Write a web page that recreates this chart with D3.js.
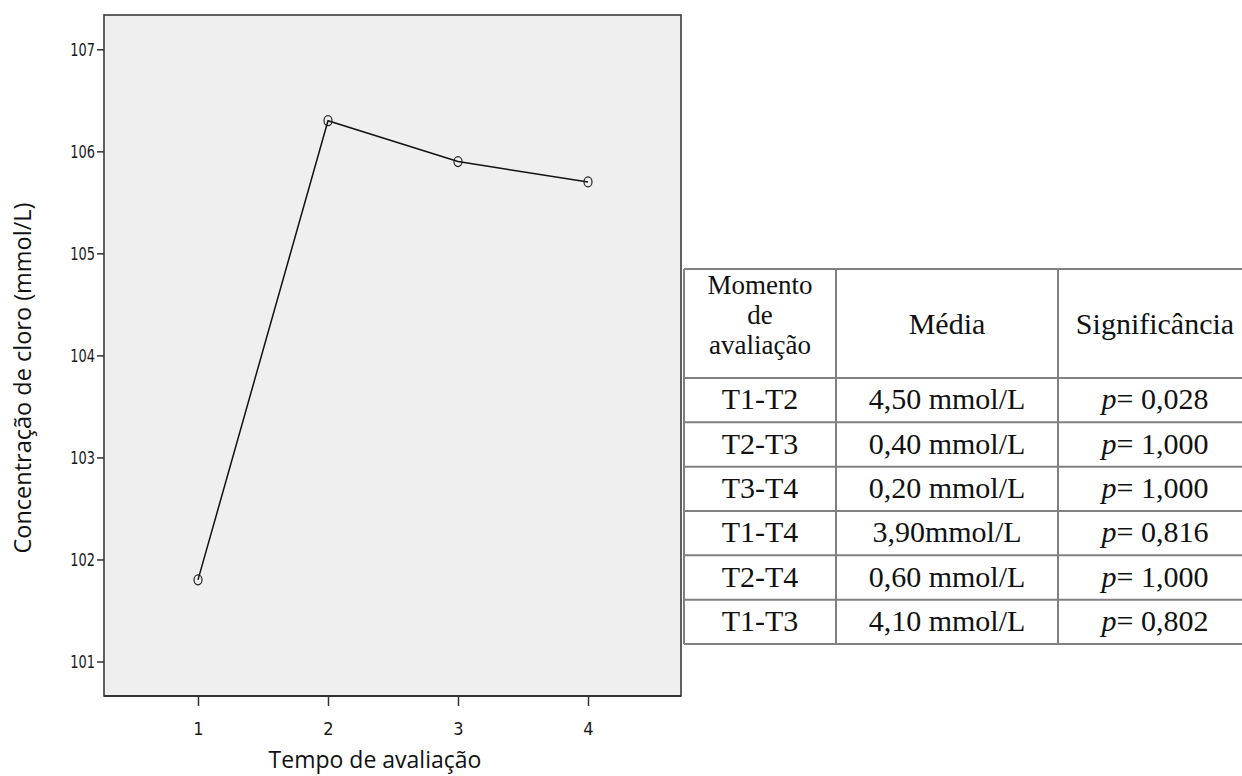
<!DOCTYPE html>
<html>
<head>
<meta charset="utf-8">
<script src="https://cdn.jsdelivr.net/npm/d3@7"></script>
<style>
  body { margin: 0; background: #fff; }
  svg { display: block; }
</style>
</head>
<body>
<svg id="chart" width="1242" height="776"></svg>
<script>
// --- data ---
const timePoints = [1, 2, 3, 4];
const chlorideMeans = [101.8, 106.3, 105.9, 105.7];
const yTicks = [101, 102, 103, 104, 105, 106, 107];

const headerLines = ["Momento", "de", "avaliação"];
const comparisons = ["T1-T2", "T2-T3", "T3-T4", "T1-T4", "T2-T4", "T1-T3"];
const meanDiffs = ["4,50 mmol/L", "0,40 mmol/L", "0,20 mmol/L", "3,90mmol/L", "0,60 mmol/L", "4,10 mmol/L"];
const pValues = ["0,028", "1,000", "1,000", "0,816", "1,000", "0,802"];

document.addEventListener("DOMContentLoaded", () => {
    drawLinePlot();
    drawTable();
});

// --- line plot (SPSS style) ---
function drawLinePlot() {
    const svg = d3.select("#chart");
    const frame = { left: 104, top: 15, right: 681, bottom: 696 };

    const x = d3.scaleLinear().domain([1, 4]).range([198, 588]);
    const y = d3.scaleLinear().domain([101, 107]).range([661.5, 49.3]);

    svg.append("rect")
        .attr("x", frame.left).attr("y", frame.top)
        .attr("width", frame.right - frame.left)
        .attr("height", frame.bottom - frame.top)
        .attr("fill", "#efefef")
        .attr("stroke", "#3a3a3a")
        .attr("stroke-width", 1.6);

    // condensed SPSS-like tick font
    const tickFont = "'Liberation Sans Narrow', 'DejaVu Sans Condensed', sans-serif";
    const sx = 0.8;

    const yAxis = svg.append("g")
        .attr("transform", `translate(${frame.left},0)`)
        .call(d3.axisLeft(y).tickValues(yTicks).tickSize(7).tickPadding(2).tickFormat(d3.format("d")));
    yAxis.select(".domain").remove();
    yAxis.selectAll("line").attr("stroke", "#333").attr("stroke-width", 1.5);
    yAxis.selectAll("text")
        .attr("fill", "#1a1a1a")
        .attr("x", -9 / sx)
        .attr("transform", `scale(${sx},1)`)
        .style("font-family", tickFont).style("font-size", "18px");

    const xAxis = svg.append("g")
        .attr("transform", `translate(0,${frame.bottom})`)
        .call(d3.axisBottom(x).tickValues(timePoints).tickSize(10).tickPadding(15).tickFormat(d3.format("d")));
    xAxis.select(".domain").remove();
    xAxis.selectAll("line").attr("stroke", "#333").attr("stroke-width", 1.5);
    xAxis.selectAll("text")
        .attr("fill", "#1a1a1a")
        .attr("y", 26)
        .style("font-family", tickFont).style("font-size", "18px");

    // bottom axis line a bit heavier
    svg.append("line")
        .attr("x1", frame.left).attr("x2", frame.right)
        .attr("y1", frame.bottom).attr("y2", frame.bottom)
        .attr("stroke", "#333").attr("stroke-width", 2);

    const pts = timePoints.map((t, i) => [t, chlorideMeans[i]]);

    svg.append("path")
        .datum(pts)
        .attr("fill", "none")
        .attr("stroke", "#111")
        .attr("stroke-width", 1.5)
        .attr("d", d3.line().x(d => x(d[0])).y(d => y(d[1])));

    svg.selectAll(".marker")
        .data(pts)
        .enter()
        .append("ellipse")
        .attr("class", "marker")
        .attr("cx", d => x(d[0]))
        .attr("cy", d => y(d[1]))
        .attr("rx", 4)
        .attr("ry", 5)
        .attr("fill", "none")
        .attr("stroke", "#222")
        .attr("stroke-width", 1.2);

    // axis titles
    const titleFont = "'Open Sans', sans-serif";
    svg.append("text")
        .attr("x", 375).attr("y", 768)
        .attr("text-anchor", "middle")
        .style("font-family", titleFont).style("font-size", "23px")
        .attr("fill", "#111")
        .text("Tempo de avaliação");

    svg.append("text")
        .attr("transform", "translate(31,378) rotate(-90)")
        .attr("text-anchor", "middle")
        .style("font-family", titleFont).style("font-size", "23.5px")
        .attr("fill", "#111")
        .text("Concentração de cloro (mmol/L)");
}

// --- comparison table ---
function drawTable() {
    const svg = d3.select("#chart");
    const left = 684, top = 269, headerBottom = 378, bottom = 644;
    const colEdges = [left, 836, 1058, 1252];
    const colMid = i => (colEdges[i] + colEdges[i + 1]) / 2;

    const row = d3.scaleBand().domain(comparisons).range([headerBottom, bottom]);
    const serif = "'Liberation Serif', 'Times New Roman', serif";
    const lineColor = "#808080";

    const g = svg.append("g");

    // horizontal rules
    const hLines = [top, headerBottom].concat(comparisons.map(c => row(c) + row.bandwidth()));
    g.selectAll(".hrule")
        .data(hLines)
        .enter()
        .append("line")
        .attr("x1", left).attr("x2", colEdges[3])
        .attr("y1", d => d).attr("y2", d => d)
        .attr("stroke", lineColor).attr("stroke-width", 2);

    // vertical rules
    g.selectAll(".vrule")
        .data(colEdges)
        .enter()
        .append("line")
        .attr("x1", d => d).attr("x2", d => d)
        .attr("y1", top).attr("y2", bottom)
        .attr("stroke", lineColor).attr("stroke-width", 2);

    const txt = (xx, yy, s, size = 30) => g.append("text")
        .attr("x", xx).attr("y", yy)
        .attr("text-anchor", "middle")
        .style("font-family", serif).style("font-size", size + "px")
        .attr("fill", "#111")
        .text(s);

    // wrapped header cell, one line per text
    headerLines.forEach((s, i) => txt(colMid(0), 294 + i * 30, s, 27));

    txt(colMid(1), 334, "Média");
    txt(colMid(2), 334, "Significância");

    comparisons.forEach((c, i) => {
        const yy = row(c) + row.bandwidth() / 2 + 9;
        txt(colMid(0), yy, c);
        txt(colMid(1), yy, meanDiffs[i]);
        const t = txt(colMid(2), yy, null);
        t.append("tspan").style("font-style", "italic").text("p");
        t.append("tspan").text("= " + pValues[i]);
    });
}
</script>
</body>
</html>
